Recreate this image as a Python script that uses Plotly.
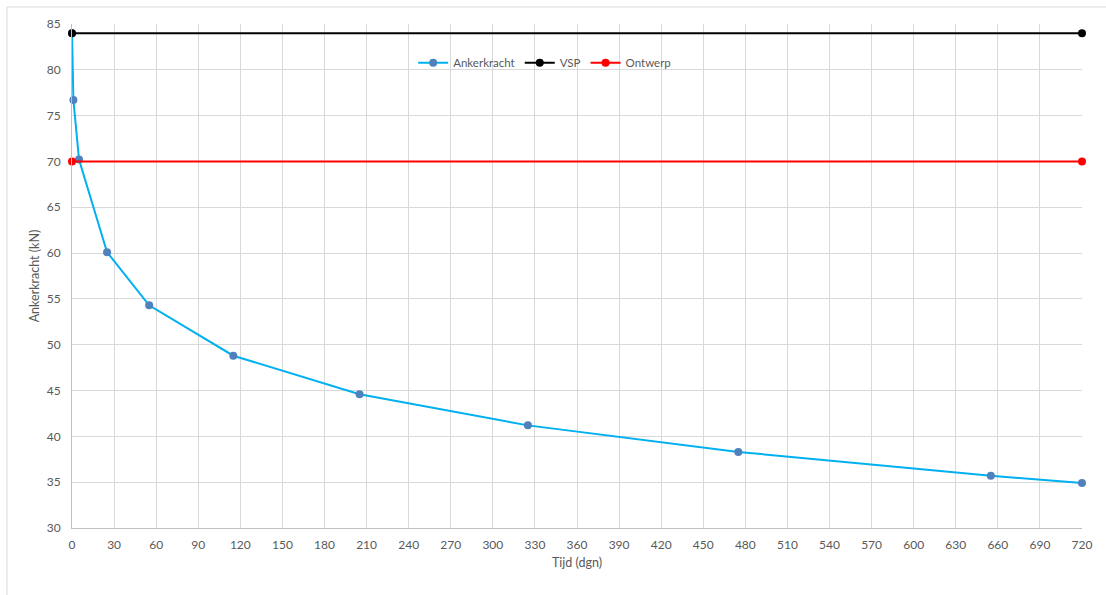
import plotly.graph_objects as go

days = [0, 1, 5, 25, 55, 115, 205, 325, 475, 655, 720]
ankerkracht = [84.0, 76.7, 70.2, 60.1, 54.3, 48.8, 44.6, 41.2, 38.3, 35.7, 34.9]
vsp_x = [0, 720]
vsp_y = [84, 84]
ontwerp_x = [0, 720]
ontwerp_y = [70, 70]

x_ticks = list(range(0, 721, 30))
y_ticks = list(range(30, 86, 5))

font_family = "Lato, 'Open Sans', sans-serif"
grey = "#595959"

fig = go.Figure()
fig.add_trace(go.Scatter(x=days, y=ankerkracht, mode="lines+markers", name="Ankerkracht",
                         line=dict(color="#00b0f0", width=2),
                         marker=dict(color="#4f81bd", size=8), cliponaxis=False))
fig.add_trace(go.Scatter(x=vsp_x, y=vsp_y, mode="lines+markers", name="VSP",
                         line=dict(color="black", width=2),
                         marker=dict(color="black", size=8), cliponaxis=False))
fig.add_trace(go.Scatter(x=ontwerp_x, y=ontwerp_y, mode="lines+markers", name="Ontwerp",
                         line=dict(color="#ff0000", width=2),
                         marker=dict(color="#ff0000", size=8), cliponaxis=False))

fig.update_layout(
    width=1106, height=595,
    margin=dict(l=72, r=24, t=24, b=67),
    paper_bgcolor="white", plot_bgcolor="white",
    font=dict(family=font_family, color=grey, size=12),
    legend=dict(orientation="h", x=0.468, y=0.923, xanchor="center", yanchor="middle",
                font=dict(size=11.5, color=grey), bgcolor="rgba(0,0,0,0)",
                itemwidth=30, tracegroupgap=0),
    showlegend=True,
)
fig.update_xaxes(range=[0, 720], tickvals=x_ticks, showgrid=True, gridcolor="#d9d9d9",
                 gridwidth=1, showline=True, linecolor="#bfbfbf", linewidth=1,
                 zeroline=False, ticks="", tickfont=dict(size=12, color=grey),
                 ticklabelstandoff=6,
                 title=dict(text="Tijd (dgn)", font=dict(size=12.5, color=grey), standoff=6))
fig.update_yaxes(range=[30, 85], tickvals=y_ticks, showgrid=True, gridcolor="#d9d9d9",
                 gridwidth=1, showline=True, linecolor="#bfbfbf", linewidth=1,
                 zeroline=False, ticks="", tickfont=dict(size=12, color=grey),
                 ticklabelstandoff=8,
                 title=dict(text="Ankerkracht (kN)", font=dict(size=12.5, color=grey), standoff=4))

# outer chart border (left and top visible)
fig.add_shape(type="line", xref="paper", yref="paper",
              x0=(7 - 72) / 1010, x1=1.05, y0=(528 - 7) / 504, y1=(528 - 7) / 504,
              line=dict(color="#d9d9d9", width=1))
fig.add_shape(type="line", xref="paper", yref="paper",
              x0=(7 - 72) / 1010, x1=(7 - 72) / 1010, y0=(528 - 7) / 504, y1=-0.2,
              line=dict(color="#d9d9d9", width=1))

fig.write_html("out.html")
